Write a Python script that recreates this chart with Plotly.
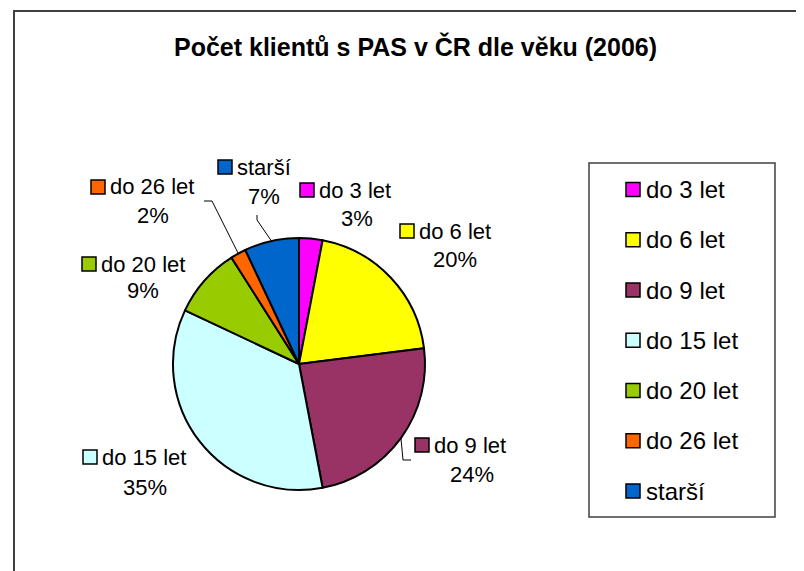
import math
import plotly.graph_objects as go

# ---- data ----
categories = ["do 3 let", "do 6 let", "do 9 let", "do 15 let", "do 20 let", "do 26 let", "starší"]
percent_values = [3, 20, 24, 35, 9, 2, 7]
slice_colors = ["#FF00FF", "#FFFF00", "#993366", "#CCFFFF", "#99CC00", "#FF6600", "#0066CC"]
title_text = "Počet klientů s PAS v ČR dle věku (2006)"

# ---- layout (pixel positions in the 804x571 window) ----
OFF = 8  # page body margin
W, H = 804 - OFF, 571 - OFF
FONT = "Liberation Sans, Arial, sans-serif"
LABEL_SIZE = 22
LEGEND_SIZE = 24
pie_cx, pie_cy, pie_r = 299, 364, 126

# per label: square left x, first line centre y, second line centre x, second line centre y
label_layout = [
    (300, 190, 357, 218),
    (400, 231, 455, 260),
    (415, 445, 472, 474),
    (83, 457, 145, 487),
    (82, 264, 143, 290),
    (91, 187, 153, 215),
    (218, 167, 264, 196),
]
# leader line elbow points (from label towards pie edge), None = no leader
leader_layout = [
    None,
    None,
    [(411, 460), (403, 460)],
    None,
    None,
    [(204, 201), (212, 201)],
    [(257, 215), (257, 220)],
]
legend_box = (589, 163, 775, 517)
legend_sq_x, legend_first_y, legend_step = 626, 189.5, 50.25
SQ = 14


def X(px):
    return (px - OFF) / W


def Y(py):
    return 1 - (py - OFF) / H


fig = go.Figure()
fig.add_trace(go.Pie(
    labels=categories,
    values=percent_values,
    sort=False,
    direction="clockwise",
    rotation=0,
    textinfo="none",
    hoverinfo="label+percent",
    showlegend=False,
    marker=dict(colors=slice_colors, line=dict(color="black", width=2)),
    domain=dict(x=[X(pie_cx - pie_r), X(pie_cx + pie_r)],
                y=[Y(pie_cy + pie_r), Y(pie_cy - pie_r)]),
))

shapes = []
annotations = []

# outer chart frame
shapes.append(dict(type="rect", xref="paper", yref="paper",
                   x0=X(14), x1=X(830), y0=Y(600), y1=Y(11),
                   line=dict(color="#404040", width=2), fillcolor="rgba(0,0,0,0)"))

# title
annotations.append(dict(text="<b>" + title_text + "</b>", x=X(415), y=Y(47),
                        xref="paper", yref="paper", xanchor="center", yanchor="middle",
                        showarrow=False, font=dict(family=FONT, size=25, color="black")))

total = sum(percent_values)
cum = 0
for i, (cat, val, col) in enumerate(zip(categories, percent_values, slice_colors)):
    mid = (cum + val / 2) / total * 2 * math.pi
    cum += val
    pct = round(val / total * 100)
    sqx, y1, cx2, y2 = label_layout[i]
    # key square
    shapes.append(dict(type="rect", xref="paper", yref="paper",
                       x0=X(sqx), x1=X(sqx + SQ), y0=Y(y1 + SQ / 2), y1=Y(y1 - SQ / 2),
                       line=dict(color="black", width=1.5), fillcolor=col))
    annotations.append(dict(text=cat, x=X(sqx + SQ + 3), y=Y(y1), xref="paper", yref="paper",
                            xanchor="left", yanchor="middle", showarrow=False,
                            font=dict(family=FONT, size=LABEL_SIZE, color="black")))
    annotations.append(dict(text=f"{pct}%", x=X(cx2), y=Y(y2), xref="paper", yref="paper",
                            xanchor="center", yanchor="middle", showarrow=False,
                            font=dict(family=FONT, size=LABEL_SIZE, color="black")))
    # leader line
    if leader_layout[i]:
        ex = pie_cx + math.sin(mid) * pie_r
        ey = pie_cy - math.cos(mid) * pie_r
        pts = leader_layout[i] + [(ex, ey)]
        path = "M " + " L ".join(f"{X(px)} {Y(py)}" for px, py in pts)
        shapes.append(dict(type="path", xref="paper", yref="paper", path=path,
                           line=dict(color="black", width=1)))

    # legend entry
    ly = legend_first_y + i * legend_step
    shapes.append(dict(type="rect", xref="paper", yref="paper",
                       x0=X(legend_sq_x), x1=X(legend_sq_x + SQ), y0=Y(ly + SQ / 2), y1=Y(ly - SQ / 2),
                       line=dict(color="black", width=1.5), fillcolor=col))
    annotations.append(dict(text=cat, x=X(legend_sq_x + SQ + 4), y=Y(ly), xref="paper", yref="paper",
                            xanchor="left", yanchor="middle", showarrow=False,
                            font=dict(family=FONT, size=LEGEND_SIZE, color="black")))

# legend box
lx0, ly0, lx1, ly1 = legend_box
shapes.append(dict(type="rect", xref="paper", yref="paper",
                   x0=X(lx0), x1=X(lx1), y0=Y(ly1), y1=Y(ly0),
                   line=dict(color="#404040", width=1.5), fillcolor="rgba(0,0,0,0)"))

fig.update_layout(
    width=W, height=H,
    margin=dict(l=0, r=0, t=0, b=0),
    paper_bgcolor="white",
    plot_bgcolor="white",
    shapes=shapes,
    annotations=annotations,
    showlegend=False,
    font=dict(family=FONT),
)

fig.write_html("out.html")
